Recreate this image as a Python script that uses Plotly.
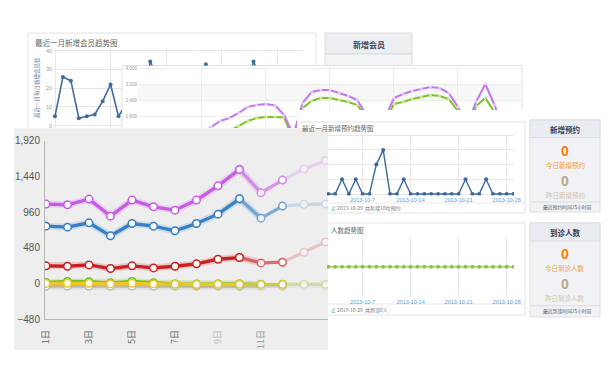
import plotly.graph_objects as go
import pandas as pd

# The page body has an 8px default margin, so the figure is drawn 8px in
# from the window's corner; figure coordinates below are window pixels.
OFF = 8
W, H = 610 - OFF, 387 - OFF

# ---------------- data ----------------
# main (front) chart
main_days = [1, 2, 3, 4, 5, 6, 7, 8, 9, 10, 11, 12, 13, 14]
main_tick_days = [1, 3, 5, 7, 9, 11]
main_tick_labels = ["1日", "3日", "5日", "7日", "9日", "11日"]
main_y_ticks = [-480, 0, 480, 960, 1440, 1920]
purple_vals = [1068, 1059, 1135, 906, 1122, 1032, 987, 1122, 1314, 1534, 1220, 1391, 1540, 1650]
blue_vals = [772, 758, 816, 642, 807, 772, 709, 807, 933, 1139, 879, 1041, 1065, 1070]
red_vals = [238, 233, 251, 202, 238, 211, 233, 265, 327, 350, 278, 287, 420, 560]
green_vals = [15, 28, 26, 10, 28, 12, -4, -6, -5, -5, -8, -8, -8, -8]
yellow_vals = [2, 4, 4, -4, 4, -4, -10, -12, -10, -10, -12, -12, -12, -12]
gray_vals = [-35, -35, -35, -35, -35, -35, -35, -35, -35, -35, -35, -35, -35, -35]

# top-left panel: new members per day (30 days)
member_idx = list(range(30))
member_vals = [5, 26, 24, 4, 5, 6, 13, 22, 5, 12, 8, 15, 34.2, 10, 6, 5, 10, 7, 14, 32.8,
               8, 6, 9, 12, 18, 34.2, 10, 6, 5, 8]
member_y_ticks = [0, 10, 20, 30, 40]

# middle panel (purple / green curves)
mid_idx = list(range(43))
mid_purple = [300, 400, 350, 500, 450, 600, 700, 665, 1065, 1365, 1515, 1765, 2065, 2165, 2215,
              2140, 1665, 665, 2265, 2815, 2915, 2915, 2765, 2615, 2415, 1815, 900, 1500, 2515,
              2715, 2865, 2965, 3065, 3015, 2765, 2065, 1165, 2335, 3215, 2165, 1000, 1200, 1300]
mid_green = [200, 250, 300, 350, 400, 450, 500, 550, 600, 700, 865, 1115, 1365, 1515, 1565,
             1565, 1540, 415, 2015, 2365, 2515, 2515, 2415, 2315, 2165, 1615, 900, 1315, 2215,
             2315, 2465, 2565, 2665, 2615, 2465, 1865, 915, 2115, 2515, 1815, 1000, 1100, 1200]
mid_y_ticks = [1600, 2400, 3200, 4000]
mid_y_labels = ["1,600", "2,400", "3,200", "4,000"]

# right panels: appointments / visits by date
day_dates = [d.strftime("%Y-%m-%d") for d in pd.date_range("2013-09-30", "2013-10-29")]
appt_vals = [0, 0, 0, 0, 1, 0, 1, 0, 0, 2, 3, 0, 0, 1, 0, 0, 0, 0, 0, 0, 0, 0, 1, 0, 0, 1, 0, 0, 0, 0]
visit_vals = [0, 0, 0, 0, 0, 0, 0, 0, 0, 0, 0, 0, 0, 0, 0, 0, 0, 0, 0, 0, 0, 0, 0, 0, 0, 0, 0, 0, 0, 0]
date_ticks = ["2013-10-07", "2013-10-14", "2013-10-21", "2013-10-28"]
date_tick_labels = ["2013-10-7", "2013-10-14", "2013-10-21", "2013-10-28"]

# ---------------- helpers ----------------
def px(x):
    return (x - OFF) / W


def py(y):
    return 1 - (y - OFF) / H


def rng(p0, p1, a_px, a_val, b_px, b_val):
    k = (b_val - a_val) / (b_px - a_px)
    return [a_val + (p0 - a_px) * k, a_val + (p1 - a_px) * k]


CJK = "Noto Sans CJK SC, Liberation Sans, sans-serif"
ARIAL = "Liberation Sans, Arial, sans-serif"

fig = go.Figure()

# ---------- top-left panel (two clipped views of same data) ----------
for xa, ya in (("x", "y"), ("x2", "y2")):
    fig.add_trace(go.Scatter(x=member_idx, y=member_vals, mode="lines+markers", xaxis=xa, yaxis=ya,
                             line=dict(color="#3f6b9f", width=1.6),
                             marker=dict(size=4, color="#3f6b9f"), hoverinfo="skip"))

# ---------- middle panel ----------
for xa, ya in (("x3", "y3"), ("x4", "y4")):
    fig.add_trace(go.Scatter(x=mid_idx, y=mid_green, mode="lines+markers", xaxis=xa, yaxis=ya,
                             line=dict(color="#7cc424", width=2),
                             marker=dict(size=3, color="#c8ec9c"), hoverinfo="skip"))
    fig.add_trace(go.Scatter(x=mid_idx, y=mid_purple, mode="lines+markers", xaxis=xa, yaxis=ya,
                             line=dict(color="#c277f0", width=2),
                             marker=dict(size=3, color="#ecc8fb"), hoverinfo="skip"))

# ---------- right charts ----------
fig.add_trace(go.Scatter(x=day_dates, y=appt_vals, mode="lines+markers", xaxis="x5", yaxis="y5",
                         line=dict(color="#3d6a9e", width=1.4),
                         marker=dict(size=4, color="#3d6a9e"), hoverinfo="skip"))
fig.add_trace(go.Scatter(x=day_dates, y=visit_vals, mode="lines+markers", xaxis="x6", yaxis="y6",
                         line=dict(color="#8cc63f", width=1.4),
                         marker=dict(size=4, color="#8cc63f"), hoverinfo="skip"))

# ---------- main chart ----------
series = [
    (gray_vals, "#b9b9b9", "rgba(150,150,150,0.18)"),
    (green_vals, "#6cbf1a", "rgba(108,191,26,0.18)"),
    (yellow_vals, "#f0c52a", "rgba(240,197,42,0.18)"),
    (red_vals, "#cc1f1f", "rgba(204,31,31,0.18)"),
    (blue_vals, "#3580c6", "rgba(53,128,198,0.18)"),
    (purple_vals, "#c85ae8", "rgba(200,90,232,0.18)"),
]
segments = [(0, 10, 1.0), (9, 12, 0.6), (11, 14, 0.2)]
for vals, col, glow in series:
    fig.add_trace(go.Scatter(x=main_days[:11], y=vals[:11], mode="lines", xaxis="x7", yaxis="y7",
                             line=dict(color=glow, width=7), hoverinfo="skip"))
    for a, b, op in segments:
        fig.add_trace(go.Scatter(x=main_days[a:b], y=vals[a:b], mode="lines+markers",
                                 xaxis="x7", yaxis="y7", opacity=op,
                                 line=dict(color=col, width=3.3),
                                 marker=dict(size=7.5, color="white", line=dict(color=col, width=1.5)),
                                 hoverinfo="skip"))

# ---------------- shapes (panels) ----------------
shapes = []


def rect(x0, y0, x1, y1, fill, line=None, lw=1):
    shapes.append(dict(type="rect", xref="paper", yref="paper", layer="below",
                       x0=px(x0), x1=px(x1), y0=py(y1), y1=py(y0), fillcolor=fill,
                       line=dict(color=line if line else "rgba(0,0,0,0)", width=lw if line else 0)))


def hline(x0, x1, y, color):
    shapes.append(dict(type="line", xref="paper", yref="paper", layer="below",
                       x0=px(x0), x1=px(x1), y0=py(y), y1=py(y), line=dict(color=color, width=1)))


rect(28, 33, 316, 140, "white", "#e2e2e2")
rect(325, 33, 412, 54, "#eceef2", "#d9dce2")
rect(325, 54, 412, 72, "#f3f4f6", "#d9dce2")
rect(122, 65.5, 522, 140, "white", "#e2e2e2")
rect(138, 84.3, 522, 100.3, "#f7f7f7")
rect(297, 110, 610, 122, "white")
# appointments chart box
rect(297, 122, 525, 213, "white", "#e3e3e3")
hline(297, 525, 203, "#e8e8e8")
# appointments summary box
rect(530, 120, 600, 212, "#f0f2f5", "#dcdfe4")
rect(530, 120, 600, 137.5, "#e9ecf0", "#dcdfe4")
hline(530, 600, 202, "#dcdfe4")
# visits chart box
rect(297, 223, 525, 315, "white", "#e3e3e3")
hline(297, 525, 304, "#e8e8e8")
# visits summary box
rect(530, 223, 600, 317, "#f0f2f5", "#dcdfe4")
rect(530, 223, 600, 241, "#e9ecf0", "#dcdfe4")
hline(530, 600, 305.7, "#dcdfe4")
# main panel (front)
rect(14, 128.5, 328, 350, "#eeeeee")

# ---------------- annotations ----------------
ann = []


def text(x, y, s, size, color, anchor="center", angle=0, family=CJK):
    ann.append(dict(xref="paper", yref="paper", x=px(x), y=py(y), text=s, showarrow=False,
                    xanchor=anchor, yanchor="middle", textangle=angle,
                    font=dict(size=size, color=color, family=family)))


text(33, 42, "最近一月新增会员趋势图", 7.5, "#666666", "left")
text(37, 88, "最近一月每日新增会员数", 5.5, "#6f84a3", angle=-90)
text(368.5, 44, "<b>新增会员</b>", 8, "#3a4658")
text(300, 127.5, "最近一月新增预约趋势图", 6.5, "#666666", "left")
text(329, 208, "止 2013-10-29  共新增10位预约", 5, "#777777", "left")
text(329, 230, "人数趋势图", 6.5, "#666666", "left")
text(329, 310, "止 2013-10-29  共到诊0人", 5, "#777777", "left")

text(565, 129.5, "<b>新增预约</b>", 7.5, "#2f4060")
text(565, 151, "<b>0</b>", 14, "#ff7a00", family=ARIAL)
text(565, 165, "今日新增预约", 6.5, "#f5a040")
text(565, 181, "<b>0</b>", 14, "#b9a88c", family=ARIAL)
text(565, 195, "昨日新增预约", 6.5, "#d3c5ab")
text(541, 207, "最近预约时间25小时前", 4.8, "#556070", "left")

text(565, 232.5, "<b>到诊人数</b>", 7.5, "#2f4060")
text(565, 254, "<b>0</b>", 14, "#ff7a00", family=ARIAL)
text(565, 268, "今日到诊人数", 6.5, "#f5a040")
text(565, 283.5, "<b>0</b>", 14, "#b9a88c", family=ARIAL)
text(565, 297.5, "昨日到诊人数", 6.5, "#d3c5ab")
text(541, 310.7, "最近到诊时间25小时前", 4.8, "#556070", "left")

# ---------------- axes ----------------
base = pd.Timestamp("2013-10-02")


def drange(p0, p1):
    r = rng(p0, p1, 328.3, 0.0, 335.16, 1.0)
    return [(base + pd.Timedelta(days=v)).strftime("%Y-%m-%d %H:%M:%S") for v in r]


grid = "#e6e6e6"
common = dict(zeroline=False, showline=False, ticks="", automargin=False)

tick_colors = {9: "#b8b8b8", 11: "#999999"}
main_ticktext = ['<span style="color:%s">%s</span>' % (tick_colors[d], lab) if d in tick_colors else lab
                 for d, lab in zip(main_tick_days, main_tick_labels)]

fig.update_layout(
    template="none",
    width=W, height=H, margin=dict(l=0, r=0, t=0, b=0, pad=0, autoexpand=False),
    paper_bgcolor="white", plot_bgcolor="rgba(0,0,0,0)", showlegend=False,
    shapes=shapes, annotations=ann,
    xaxis=dict(domain=[px(53), px(122)], range=rng(53, 122, 55, 0, 62.94, 1), anchor="y",
               tick0=0, dtick=7, showgrid=True, gridcolor=grid, showticklabels=False, **common),
    yaxis=dict(domain=[py(128), py(49)], range=rng(128, 49, 125.7, 0, 50.7, 40), anchor="x",
               tickvals=member_y_ticks, showgrid=True, gridcolor=grid,
               tickfont=dict(size=5.5, color="#999999", family=ARIAL), **common),
    xaxis2=dict(domain=[px(122), px(303)], range=rng(122, 303, 55, 0, 62.94, 1), anchor="y2",
                tick0=0, dtick=7, showgrid=True, gridcolor=grid, showticklabels=False, **common),
    yaxis2=dict(domain=[py(65.5), py(49)], range=rng(65.5, 49, 125.7, 0, 50.7, 40), anchor="x2",
                tickvals=member_y_ticks, showgrid=True, gridcolor=grid, showticklabels=False, **common),
    xaxis3=dict(domain=[px(138), px(297)], range=rng(138, 297, 138, 0, 147.14, 1), anchor="y3",
                tick0=0, dtick=7, showgrid=True, gridcolor="#ececec", showticklabels=False, **common),
    yaxis3=dict(domain=[py(128), py(67)], range=rng(128, 67, 68.3, 4000, 84.3, 3200), anchor="x3",
                tickvals=mid_y_ticks, ticktext=mid_y_labels, showgrid=True, gridcolor="#ececec",
                tickfont=dict(size=4.5, color="#999999", family=ARIAL), **common),
    xaxis4=dict(domain=[px(297), px(522)], range=rng(297, 522, 138, 0, 147.14, 1), anchor="y4",
                tick0=0, dtick=7, showgrid=True, gridcolor="#ececec", showticklabels=False, **common),
    yaxis4=dict(domain=[py(110), py(67)], range=rng(110, 67, 68.3, 4000, 84.3, 3200), anchor="x4",
                tickvals=mid_y_ticks, showgrid=True, gridcolor="#ececec", showticklabels=False, **common),
    xaxis5=dict(domain=[px(327), px(514)], range=drange(327, 514), anchor="y5", type="date",
                tickvals=date_ticks, ticktext=date_tick_labels, showgrid=True, gridcolor="#e8e8e8",
                tickfont=dict(size=5.5, color="#6a9ad0", family=ARIAL), **common),
    yaxis5=dict(domain=[py(195.5), py(133.7)], range=rng(195.5, 133.7, 194, 0, 179.3, 1), anchor="x5",
                tickvals=[0, 1, 2, 3, 4], showgrid=True, gridcolor="#e8e8e8", showticklabels=False, **common),
    xaxis6=dict(domain=[px(327), px(514)], range=drange(327, 514), anchor="y6", type="date",
                tickvals=date_ticks, ticktext=date_tick_labels, showgrid=True, gridcolor="#e8e8e8",
                tickfont=dict(size=5.5, color="#6a9ad0", family=ARIAL), **common),
    yaxis6=dict(domain=[py(297), py(236.7)], range=[-1, 1], anchor="x6",
                showgrid=False, showticklabels=False, **common),
    xaxis7=dict(domain=[px(45), px(328)], range=rng(45, 328, 46, 1, 67.5, 2), anchor="y7",
                tickvals=main_tick_days, ticktext=main_ticktext, tickangle=-90,
                showline=True, linecolor="#b8b8b8", linewidth=1, showgrid=False, zeroline=False,
                ticks="", ticklabelstandoff=6, automargin=False,
                tickfont=dict(size=9, color="#666666", family=CJK)),
    yaxis7=dict(domain=[py(319.3), py(140.7)], range=[-480, 1920], anchor="x7",
                tickvals=main_y_ticks, tickformat=",d",
                showline=True, linecolor="#b8b8b8", linewidth=1, showgrid=False, zeroline=False,
                ticks="", ticklabelstandoff=2, automargin=False,
                tickfont=dict(size=10, color="#555555", family=ARIAL)),
)

fig.write_html("out.html", config={"displayModeBar": False})
